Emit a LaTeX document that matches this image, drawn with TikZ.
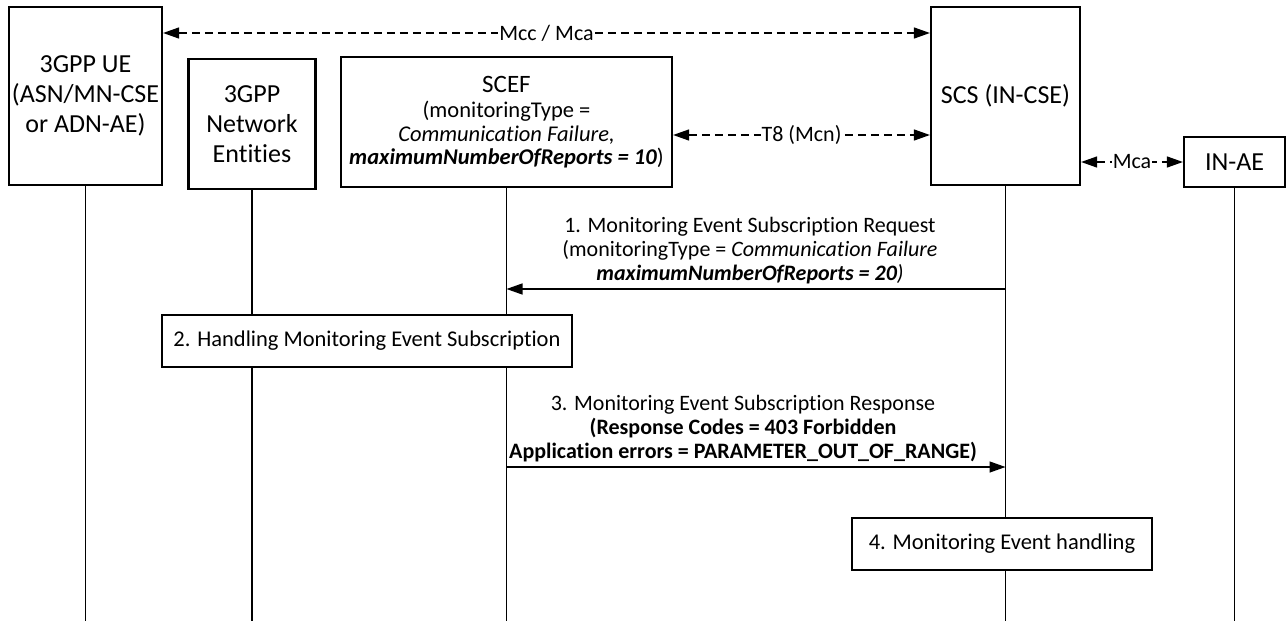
\documentclass[tikz,border=0pt]{standalone}
\usepackage{fontspec}
\setmainfont{Carlito}[Ligatures=NoCommon]
\usetikzlibrary{arrows.meta,calc}
\begin{document}
\begin{tikzpicture}[x=1pt,y=-1pt,
  bigbox/.style={draw, line width=2.2pt, fill=white, align=center, inner sep=0pt, font=\fontsize{26}{30}\selectfont},
  procbox/.style={draw, line width=1.3pt, fill=white, inner sep=0pt, font=\fontsize{22.5}{26}\selectfont},
  lifeline/.style={line width=1.3pt},
  msg/.style={line width=1.4pt, -{Triangle[length=16pt,width=11pt]}},
  iface/.style={line width=1.3pt, dash pattern=on 8pt off 5pt, {Triangle[length=16pt,width=11pt]}-{Triangle[length=16pt,width=11pt]}},
  ifl/.style={fill=white, inner sep=1pt, font=\fontsize{22}{26}\selectfont},
  msgtext/.style={align=center, inner sep=1pt, font=\fontsize{22}{24}\selectfont},
]
\useasboundingbox (0,0) rectangle (1287,621);

% entity boxes
\node[bigbox, minimum width=153pt, minimum height=178pt] (ue) at (85.5,96) {3GPP UE\\(ASN/MN-CSE\\or ADN-AE)};
\node[bigbox, minimum width=127pt, minimum height=130pt] (ne) at (252,124) {3GPP\\Network\\Entities};
\node[bigbox, minimum width=331pt, minimum height=130pt, font=\fontsize{22.5}{23.5}\selectfont] (scef) at (506.5,122)
  {{\fontsize{25}{26}\selectfont SCEF}\\[2pt]
   (monitoringType =\\
   \textit{Communication Failure,}\\
   \textbf{\textit{maximumNumberOfReports = 10}})};
\node[bigbox, minimum width=149pt, minimum height=178pt] (scs) at (1005.5,96) {\raisebox{-4pt}{SCS (IN-CSE)}};
\node[bigbox, minimum width=101pt, minimum height=50pt] (inae) at (1234.5,162) {IN-AE};

% lifelines
\coordinate (ueEnd) at (ue.south |- 0,621);
\coordinate (neEnd) at (ne.south |- 0,621);
\coordinate (scefEnd) at (scef.south |- 0,621);
\coordinate (scsEnd) at (scs.south |- 0,621);
\coordinate (inaeEnd) at (inae.south |- 0,621);
\draw[lifeline] (ue.south) -- (ueEnd);
\draw[lifeline] (ne.south) -- (neEnd);
\draw[lifeline] (scef.south) -- (scefEnd);
\draw[lifeline] (scs.south) -- (scsEnd);
\draw[lifeline] (inae.south) -- (inaeEnd);

% interface arrows
\coordinate (mccA) at (ue.east |- 0,33);
\coordinate (mccB) at (scs.west |- 0,33);
\draw[iface] (mccA) -- node[ifl] (mccL) {Mcc / Mca} (mccB);
\coordinate (t8A) at (scef.east |- 0,135);
\coordinate (t8B) at (scs.west |- 0,135);
\draw[iface] (t8A) -- node[ifl] (t8L) {T8 (Mcn)} (t8B);
\coordinate (mcaA) at (scs.east |- 0,162);
\coordinate (mcaB) at (inae.west |- 0,162);
\draw[iface] (mcaA) -- node[ifl] (mcaL) {Mca} (mcaB);

% message 1
\coordinate (m1a) at (scs.south |- 0,289);
\coordinate (m1b) at (scef.south |- 0,289);
\draw[msg] (m1a) -- (m1b);
\node[msgtext, anchor=south] (t1) at (750,285)
  {1. Monitoring Event Subscription Request\\
   (monitoringType = \textit{Communication Failure}\\
   \textit{\textbf{maximumNumberOfReports = 20})}};

% step 2
\node[procbox, minimum width=410pt, minimum height=52pt] (h2) at (367,341) {2. Handling Monitoring Event Subscription};

% message 3
\coordinate (m3a) at (scef.south |- 0,467);
\coordinate (m3b) at (scs.south |- 0,467);
\draw[msg] (m3a) -- (m3b);
\node[msgtext, anchor=south] (t3) at (743,463)
  {3. Monitoring Event Subscription Response\\
   \textbf{(Response Codes = 403 Forbidden}\\
   \textbf{Application errors = PARAMETER\_OUT\_OF\_RANGE)}};

% step 4
\node[procbox, minimum width=300pt, minimum height=52pt] (h4) at (1002,544) {4. Monitoring Event handling};
\end{tikzpicture}
\end{document}
